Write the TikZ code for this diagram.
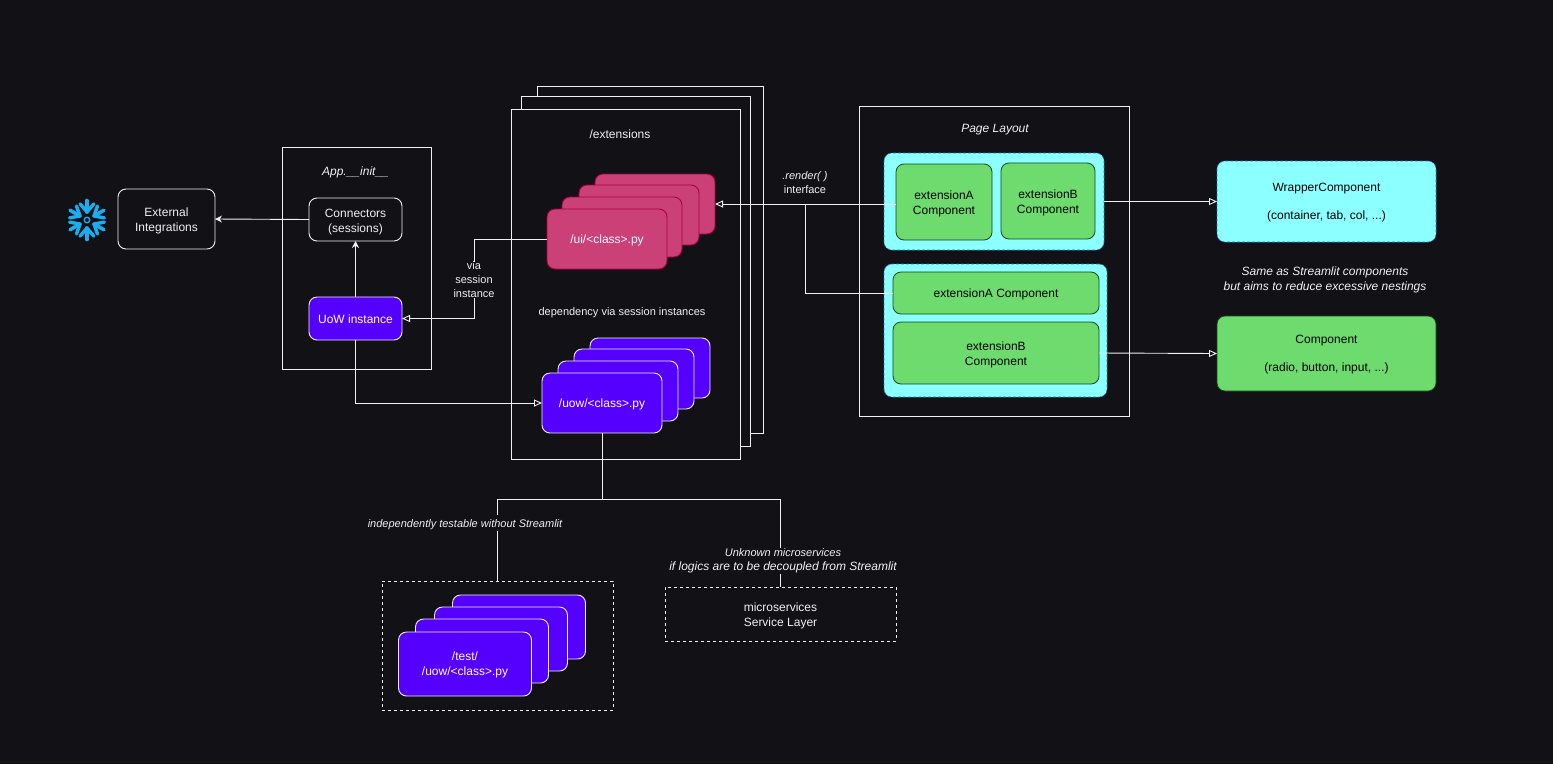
\documentclass[tikz,border=0pt]{standalone}
\usepackage{fontspec}
\setmainfont{Liberation Sans}
\usetikzlibrary{arrows.meta}
\definecolor{bgcolor}{HTML}{121116}
\definecolor{linecolor}{HTML}{F0F0F0}
\definecolor{uicolor}{HTML}{CC4078}
\definecolor{uiedge}{HTML}{A50040}
\definecolor{uowcolor}{HTML}{5500FF}
\definecolor{greencolor}{HTML}{6DDB6D}
\definecolor{greenedge}{HTML}{0F4A14}
\definecolor{cyancolor}{HTML}{8CFFFF}
\definecolor{cyanedge}{HTML}{1F7FB8}
\definecolor{snowcolor}{HTML}{18AEF0}
\begin{document}
\begin{tikzpicture}[x=1pt, y=-1pt,
    basestyle/.style={inner sep=0pt, outer sep=0pt, align=center, font=\fontsize{12}{15}\selectfont, execute at begin node={\rule{0pt}{12pt}}},
    twolines/.style={execute at begin node={\rule{0pt}{28pt}}},
    gaplines/.style={execute at begin node={\rule{0pt}{39pt}}},
    framestyle/.style={basestyle, draw=linecolor, fill=bgcolor, text=linecolor, line width=.9pt},
    cardstyle/.style={framestyle, rounded corners=8pt},
    uistyle/.style={basestyle, draw=uiedge, fill=uicolor, text=white, rounded corners=8pt, line width=.9pt, minimum width=120pt, minimum height=60pt},
    uowstyle/.style={basestyle, draw=linecolor, fill=uowcolor, text=white, rounded corners=8pt, line width=.9pt, minimum width=120pt, minimum height=60pt},
    teststyle/.style={uowstyle, minimum width=133pt, minimum height=64pt},
    greenstyle/.style={basestyle, draw=greenedge, fill=greencolor, text=black, rounded corners=8pt, line width=.8pt},
    cyanstyle/.style={basestyle, draw=cyanedge, densely dashed, fill=cyancolor, text=black, rounded corners=8pt, line width=.6pt},
    dashstyle/.style={basestyle, draw=linecolor, dashed, text=linecolor, line width=.9pt},
    titlestyle/.style={basestyle, text=linecolor},
    labelstyle/.style={titlestyle, fill=bgcolor, font=\fontsize{11}{14}\selectfont},
    linkstyle/.style={draw=linecolor, line width=.9pt},
    openlink/.style={linkstyle, -{Triangle[open, length=8pt, width=7pt]}},
    solidlink/.style={linkstyle, -{Stealth[length=7pt, width=7pt]}}]

    \useasboundingbox (0,0) rectangle (1553,764);
    \fill[bgcolor] (0,0) rectangle (1553,764);

    % snowflake logo
    \begin{scope}[shift={(87,220)}]
        \foreach \a in {30, 90, ..., 330} {
            \draw[snowcolor, line width=3.6pt, line cap=round] (\a:8) -- (\a:19.5);
            \draw[snowcolor, line width=3.4pt, line cap=round] (\a:8) -- ({\a+23}:17.5) (\a:8) -- ({\a-23}:17.5);
        }
        \draw[snowcolor, line width=1.3pt] (0,0) circle (2.8);
    \end{scope}

    \node[cardstyle, twolines, minimum width=97pt, minimum height=60pt] (external) at (166.5,219) {External\\Integrations};

    % app init
    \node[framestyle, minimum width=149pt, minimum height=222pt] (appBox) at (356.5,258) {};
    \node[titlestyle, font=\fontsize{12}{15}\selectfont\itshape] (appTitle) at (355.5,171) {App.\_\_init\_\_};
    \node[cardstyle, twolines, minimum width=93pt, minimum height=43pt] (connectors) at (355.5,219.5) {Connectors\\(sessions)};
    \node[uowstyle, minimum width=93pt, minimum height=43pt] (uowInst) at (355.5,318.5) {\raisebox{1.5pt}{UoW instance}};

    % extensions pages
    \foreach \x/\y/\w/\h/\n in {650/259.5/226/347/pageC, 635.5/271/229/350/pageB, 625.5/284/229/350/pageA}
        \node[framestyle, minimum width=\w pt, minimum height=\h pt] (\n) at (\x,\y) {};
    \node[titlestyle] (extTitle) at (620,133) {/extensions};

    \foreach \x/\y/\n in {655/204/uiD, 639/215/uiC, 622/227/uiB, 607/239/uiA}
        \node[uistyle] (\n) at (\x,\y) {};
    \node[titlestyle, text=white] (uiText) at (607,239) {/ui/<class>.py};

    \node[labelstyle] (depLabel) at (622,311) {dependency via session instances};

    \foreach \x/\y/\n in {650/368/uowD, 634/379/uowC, 618/391/uowB, 602/403/uowA}
        \node[uowstyle] (\n) at (\x,\y) {};
    \node[titlestyle, text=white] (uowText) at (602,403) {/uow/<class>.py};

    % page layout
    \node[framestyle, minimum width=270pt, minimum height=310pt] (layoutBox) at (994.5,261) {};
    \node[titlestyle, font=\fontsize{12}{15}\selectfont\itshape] (layoutTitle) at (995,128) {Page Layout};
    \node[cyanstyle, minimum width=220pt, minimum height=97pt] (wrapTop) at (994,201.5) {};
    \node[cyanstyle, minimum width=223pt, minimum height=133pt] (wrapBottom) at (995.5,330.5) {};
    \node[greenstyle, twolines, minimum width=96pt, minimum height=76pt] (extATop) at (944,202) {extensionA\\Component};
    \node[greenstyle, twolines, minimum width=94pt, minimum height=76pt] (extBTop) at (1048,201) {extensionB\\Component};
    \node[greenstyle, minimum width=206pt, minimum height=42pt] (extABar) at (996,293) {extensionA Component};
    \node[greenstyle, twolines, minimum width=206pt, minimum height=62pt] (extBBar) at (996,353) {extensionB\\Component};

    % legend on the right
    \node[cyanstyle, gaplines, minimum width=219pt, minimum height=81pt] (wrapperComp) at (1326.5,201.5) {WrapperComponent\\[13pt](container, tab, col, ...)};
    \node[greenstyle, gaplines, minimum width=219pt, minimum height=75pt] (plainComp) at (1326.5,353.5) {Component\\[13pt](radio, button, input, ...)};
    \node[labelstyle, font=\fontsize{12}{15}\selectfont\itshape] (sameLabel) at (1325,280) {Same as Streamlit components\\but aims to reduce excessive nestings};

    % service boxes
    \node[dashstyle, minimum width=231pt, minimum height=129pt] (testBox) at (497.5,645.5) {};
    \foreach \x/\y/\n in {519/627/testD, 501/639/testC, 482/651/testB, 465/664/testA}
        \node[teststyle] (\n) at (\x,\y) {};
    \node[titlestyle, twolines, text=white] (testText) at (465,663) {/test/\\/uow/<class>.py};
    \node[dashstyle, twolines, minimum width=231pt, minimum height=54pt] (microBox) at (780.5,614) {microservices\\Service Layer};

    % connectors
    \coordinate (busJoin) at (602,499);
    \coordinate (renderJoin) at (805,204);
    \draw[solidlink] (connectors.west) -- (external.east);
    \draw[solidlink] (uowInst.north) -- (connectors.south);
    \draw[openlink] (uowInst.south) |- (uowA.west);
    \node[labelstyle] (viaLabel) at (474,280) {via\\session\\instance};
    \draw[linkstyle] (uiA.west) -| (viaLabel.north);
    \draw[openlink] (viaLabel.south) |- (uowInst.east);
    \draw[openlink] (extATop.west |- uiD.east) -- (uiD.east);
    \draw[linkstyle] (extABar.west) -| (renderJoin);
    \node[titlestyle, font=\fontsize{11}{14}\selectfont] (renderLabel) at (805,183) {\textit{.render( )}\\interface};
    \draw[openlink] (wrapTop.east) -- (wrapperComp.west);
    \draw[openlink] (extBBar.east) -- (plainComp.west);
    \draw[linkstyle] (uowA.south) -- (busJoin);
    \draw[linkstyle] (busJoin) -| (testBox.north);
    \draw[linkstyle] (busJoin) -| (microBox.north);
    \node[labelstyle, inner ysep=1pt, font=\fontsize{11}{14}\selectfont\itshape] (testLabel) at (465,523) {independently testable without Streamlit};
    \node[labelstyle, inner ysep=1pt, font=\fontsize{12}{14}\selectfont\itshape] (microLabel) at (783,561) {{\fontsize{11}{14}\selectfont Unknown microservices}\\if logics are to be decoupled from Streamlit};
\end{tikzpicture}
\end{document}
